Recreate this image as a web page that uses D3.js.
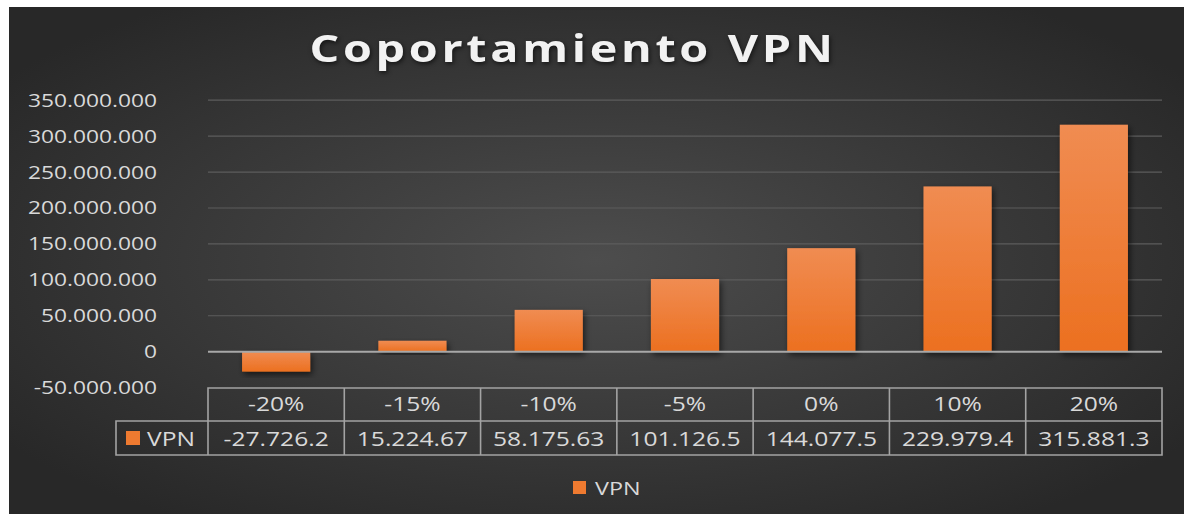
<!DOCTYPE html>
<html>
<head>
<meta charset="utf-8">
<script src="https://cdn.jsdelivr.net/npm/d3@7"></script>
<style>
  html, body { margin: 0; padding: 0; background: #fff; }
  text { font-family: "Open Sans", "DejaVu Sans", sans-serif; }
</style>
</head>
<body>
<svg id="chart"></svg>
<script>
// data
const categories = ["-20%", "-15%", "-10%", "-5%", "0%", "10%", "20%"];
const vpnValues = [-27726200, 15224670, 58175630, 101126500, 144077500, 229979400, 315881300];
const vpnLabels = ["-27.726.2", "15.224.67", "58.175.63", "101.126.5", "144.077.5", "229.979.4", "315.881.3"];
const seriesName = "VPN";
const chartTitle = "Coportamiento VPN";

const svgWidth = 1184, svgHeight = 514;
const plot = { left: 208, right: 1162, top: 100.2, bottom: 387.6 };
const sx = 1.23; // the picture is stretched sideways, so is its text

const svg = d3.select("#chart")
    .attr("width", svgWidth)
    .attr("height", svgHeight);

const defs = svg.append("defs");

const bg = defs.append("radialGradient").attr("id", "bg")
    .attr("cx", 0.5).attr("cy", 0.5).attr("r", 0.62);
bg.append("stop").attr("offset", "0%").attr("stop-color", "#4d4d4d");
bg.append("stop").attr("offset", "100%").attr("stop-color", "#282828");

const barGrad = defs.append("linearGradient").attr("id", "barGrad")
    .attr("x1", 0).attr("y1", 0).attr("x2", 0).attr("y2", 1);
barGrad.append("stop").attr("offset", "0%").attr("stop-color", "#f08c52");
barGrad.append("stop").attr("offset", "100%").attr("stop-color", "#ec7020");

const shadow = defs.append("filter").attr("id", "shadow")
    .attr("x", "-20%").attr("y", "-20%").attr("width", "150%").attr("height", "150%");
shadow.append("feDropShadow")
    .attr("dx", 2).attr("dy", 3).attr("stdDeviation", 3)
    .attr("flood-color", "#000").attr("flood-opacity", 0.6);

// chart background
svg.append("rect")
    .attr("x", 9).attr("y", 7)
    .attr("width", svgWidth - 9).attr("height", svgHeight - 7)
    .attr("fill", "url(#bg)");

// place text with the sideways stretch
function put(sel, x, y) {
    return sel.attr("x", 0).attr("y", 0)
        .attr("transform", `translate(${x},${y}) scale(${sx},1)`);
}

const locale = d3.formatLocale({ decimal: ",", thousands: ".", grouping: [3], currency: ["", ""], minus: "-" });
const fmt = locale.format(",.0f");

const xScale = d3.scaleBand()
    .domain(categories)
    .range([plot.left, plot.right])
    .paddingInner(0.5)
    .paddingOuter(0.25);

const yScale = d3.scaleLinear()
    .domain([-50000000, 350000000])
    .range([plot.bottom, plot.top]);

const ticks = d3.range(-50000000, 350000001, 50000000);

// gridlines
svg.append("g")
    .selectAll("line")
    .data(ticks.filter(d => d > -50000000 && d !== 0))
    .enter().append("line")
    .attr("x1", plot.left).attr("x2", plot.right)
    .attr("y1", d => yScale(d)).attr("y2", d => yScale(d))
    .attr("stroke", "#5c5c5c")
    .attr("stroke-width", 1.2);

// y-axis labels
svg.append("g")
    .selectAll("text")
    .data(ticks)
    .enter().append("text")
    .each(function (d) { put(d3.select(this), 157, yScale(d) + 6.5); })
    .attr("text-anchor", "end")
    .attr("font-size", 18.5)
    .attr("fill", "#d9d9d9")
    .text(d => fmt(d));

// bars
svg.append("g")
    .selectAll("rect")
    .data(categories)
    .enter().append("rect")
    .attr("x", d => xScale(d))
    .attr("width", xScale.bandwidth())
    .attr("y", (d, i) => yScale(Math.max(0, vpnValues[i])))
    .attr("height", (d, i) => Math.abs(yScale(vpnValues[i]) - yScale(0)))
    .attr("fill", "url(#barGrad)")
    .attr("filter", "url(#shadow)");

// zero line
svg.append("line")
    .attr("x1", plot.left).attr("x2", plot.right)
    .attr("y1", yScale(0)).attr("y2", yScale(0))
    .attr("stroke", "#a8a8a8")
    .attr("stroke-width", 2);

// data table
const step = xScale.step();
const row1 = { top: 388, bottom: 421 };
const row2 = { top: 421, bottom: 455 };
const keyLeft = 116;
const table = svg.append("g")
    .attr("stroke", "#a3a3a3")
    .attr("stroke-width", 1.6)
    .attr("fill", "none");

table.append("path")
    .attr("d", `M${plot.left},${row2.top} V${row1.top} H${plot.right} V${row2.bottom} H${keyLeft} V${row2.top} H${plot.right}`);
table.selectAll(".sep")
    .data(categories.slice(1))
    .enter().append("line")
    .attr("class", "sep")
    .attr("x1", d => xScale(d) - step * 0.25).attr("x2", d => xScale(d) - step * 0.25)
    .attr("y1", row1.top).attr("y2", row2.bottom);
table.append("line")
    .attr("x1", plot.left).attr("x2", plot.left)
    .attr("y1", row2.top).attr("y2", row2.bottom);

svg.append("g")
    .selectAll("text")
    .data(categories)
    .enter().append("text")
    .each(function (d) { put(d3.select(this), xScale(d) + xScale.bandwidth() / 2, 411); })
    .attr("text-anchor", "middle")
    .attr("font-size", 20)
    .attr("fill", "#d9d9d9")
    .text(d => d);

svg.append("g")
    .selectAll("text")
    .data(categories)
    .enter().append("text")
    .each(function (d) { put(d3.select(this), xScale(d) + xScale.bandwidth() / 2, 445.5); })
    .attr("text-anchor", "middle")
    .attr("font-size", 20)
    .attr("fill", "#d9d9d9")
    .text((d, i) => vpnLabels[i]);

// series key in the table
svg.append("rect")
    .attr("x", 126).attr("y", 431).attr("width", 14).attr("height", 14)
    .attr("fill", "#ee7a30");
svg.append("text")
    .call(put, 147, 445.5)
    .attr("font-size", 20)
    .attr("fill", "#d9d9d9")
    .text(seriesName);

// legend
svg.append("rect")
    .attr("x", 573).attr("y", 481).attr("width", 13).attr("height", 13)
    .attr("fill", "#ee7a30");
svg.append("text")
    .call(put, 595, 495)
    .attr("font-size", 19)
    .attr("fill", "#d9d9d9")
    .text(seriesName);

// title
svg.append("text")
    .call(put, 573, 62)
    .attr("text-anchor", "middle")
    .attr("font-size", 38)
    .attr("font-weight", "bold")
    .attr("letter-spacing", 3)
    .attr("fill", "#f2f2f2")
    .style("filter", "drop-shadow(1px 2px 2px rgba(0,0,0,0.6))")
    .text(chartTitle);
</script>
</body>
</html>
